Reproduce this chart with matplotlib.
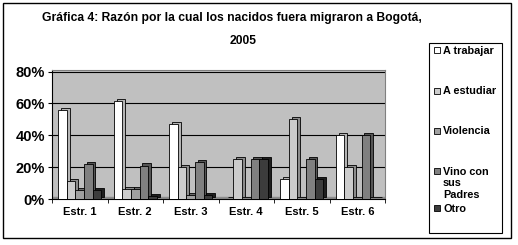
import matplotlib.pyplot as plt
from matplotlib.patches import Rectangle
import numpy as np

plt.rcParams['font.family'] = ['Liberation Sans', 'DejaVu Sans']
plt.rcParams['font.weight'] = 'bold'

cats = ['Estr. 1', 'Estr. 2', 'Estr. 3', 'Estr. 4', 'Estr. 5', 'Estr. 6']
trabajar = [55.6, 61.5, 47.0, 0.0, 12.5, 40.0]
estudiar = [11.1, 6.5, 20.0, 25.0, 50.0, 20.0]
violencia = [5.6, 6.5, 2.5, 0.0, 0.0, 0.0]
vino = [22.2, 21.0, 23.5, 25.0, 25.0, 40.0]
otro = [5.6, 2.0, 2.5, 25.0, 12.5, 0.0]
labels = ['A trabajar', 'A estudiar', 'Violencia', 'Vino con\nsus\nPadres', 'Otro']
series = [trabajar, estudiar, violencia, vino, otro]
front = ['#ffffff', '#cccccc', '#a0a0a0', '#808080', '#3c3c3c']
side = ['#b4b4b4', '#8c8c8c', '#6a6a6a', '#555555', '#1e1e1e']

W, H = 518, 245
fig = plt.figure(figsize=(W / 100, H / 100), dpi=100)
ax = fig.add_axes([52 / W, (H - 199) / H, 333 / W, 129 / H])
ax.set_facecolor('#c0c0c0')

x = np.arange(len(cats))
bw = 0.155
dx, dy = 0.05, 1.3
for i, vals in enumerate(series):
    xs = x + (i - 2) * bw
    ax.bar(xs + dx, vals, bw, bottom=dy, color=side[i], edgecolor='black', lw=0.6, zorder=2)
    ax.bar(xs, vals, bw, color=front[i], edgecolor='black', lw=0.6, zorder=3)

ax.axhspan(0, 1.0, color='#8c8c8c', zorder=1)
for g in [20, 40, 60, 80]:
    ax.axhline(g, color='black', lw=0.8, zorder=1)

ax.set_xlim(-0.5, 5.5)
ax.set_ylim(0, 81)
ax.set_yticks([0, 20, 40, 60, 80])
ax.set_yticklabels(['0%', '20%', '40%', '60%', '80%'], fontsize=10.5, fontweight='bold')
ax.set_xticks(x)
ax.set_xticklabels(cats, fontsize=8, fontweight='bold')
ax.set_xticks(np.arange(-0.5, 6, 1), minor=True)
ax.tick_params(axis='x', which='major', length=0, pad=6)
ax.tick_params(axis='x', which='minor', length=3)
ax.tick_params(axis='y', length=3, pad=2)
for s in ['top', 'right']:
    ax.spines[s].set_color('#808080')
ax.spines['left'].set_color('black')
ax.spines['bottom'].set_color('black')

fig.text(232 / W, 1 - 18 / H, 'Gráfica 4: Razón por la cual los nacidos fuera migraron a Bogotá,',
         ha='center', va='center', fontsize=8.7, fontweight='bold')
fig.text(243 / W, 1 - 41 / H, '2005', ha='center', va='center', fontsize=8.7, fontweight='bold')

# legend box
fig.patches.append(Rectangle((429 / W, 1 - 233 / H), 73 / W, 190 / H, transform=fig.transFigure,
                             fill=False, edgecolor='black', lw=0.8))
ys = [50, 91, 131, 171, 208]
for i, lab in enumerate(labels):
    yy = 1 - ys[i] / H
    fig.patches.append(Rectangle((434 / W, yy - 3 / H), 6 / W, 6 / H, transform=fig.transFigure,
                                 facecolor=front[i], edgecolor='black', lw=0.6))
    fig.text(443 / W, yy + 4.5 / H, lab, ha='left', va='top', fontsize=7.8, fontweight='bold',
             linespacing=1.2)

# outer border
fig.patches.append(Rectangle((3 / W, 7 / H), 508 / W, 235 / H, transform=fig.transFigure,
                             fill=False, edgecolor='black', lw=1))

fig.savefig('out.png', dpi=100)
